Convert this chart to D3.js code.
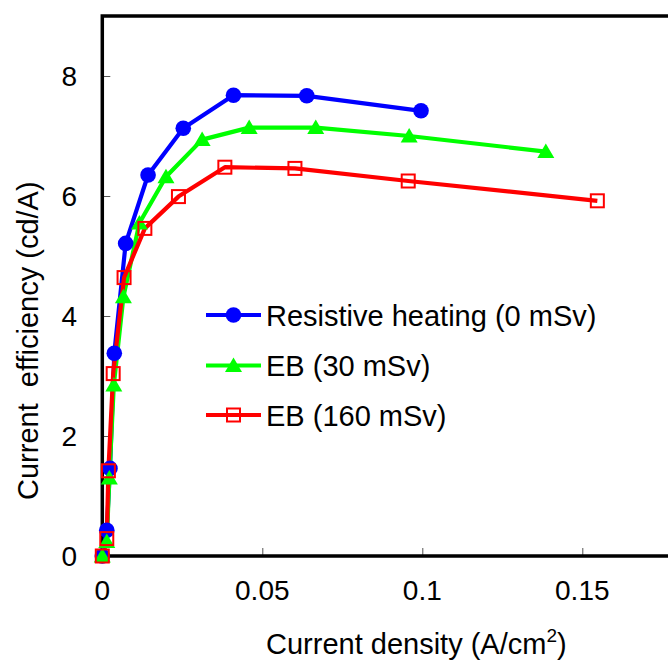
<!DOCTYPE html>
<html>
<head>
<meta charset="utf-8">
<script src="https://cdn.jsdelivr.net/npm/d3@7"></script>
<style>
  html, body { margin: 0; padding: 0; background: #fff; }
  svg { display: block; }
  text { font-family: "Liberation Sans", Arial, sans-serif; fill: #000; }
</style>
</head>
<body>
<svg id="chart" width="668" height="661"></svg>
<script>
// ---- data ----
const seriesNames = ["Resistive heating (0 mSv)", "EB (30 mSv)", "EB (160 mSv)"];
const blueX  = [0, 0.0014, 0.0024, 0.00375, 0.0073, 0.0143, 0.0253, 0.0410, 0.0639, 0.0996];
const blueY  = [0, 0.43, 1.46, 3.38, 5.21, 6.35, 7.13, 7.68, 7.67, 7.42];
const greenX = [0, 0.0014, 0.0022, 0.0036, 0.0066, 0.0116, 0.0199, 0.0312, 0.0459, 0.0667, 0.0959, 0.1386];
const greenY = [0, 0.24, 1.30, 2.85, 4.32, 5.55, 6.32, 6.94, 7.14, 7.14, 7.00, 6.74];
const redX   = [0, 0.0014, 0.0019, 0.0034, 0.0068, 0.0133, 0.0238, 0.0383, 0.0602, 0.0956, 0.1547];
const redY   = [0, 0.29, 1.42, 3.04, 4.64, 5.46, 5.99, 6.48, 6.46, 6.25, 5.92];
const xTicks = [0, 0.05, 0.1, 0.15];
const xTickLabels = ["0", "0.05", "0.1", "0.15"];
const yTicks = [0, 2, 4, 6, 8];
const yTickLabels = ["0", "2", "4", "6", "8"];
const xTitle = "Current density (A/cm";
const xTitleSup = "2";
const yTitle = "Current  efficiency (cd/A)";

// ---- layout ----
const svg = d3.select("#chart");
const L = 102.3, R = 742.3, T = 16, B = 556;
const x = d3.scaleLinear().domain([0, 0.2]).range([L, R]);
const y = d3.scaleLinear().domain([0, 9]).range([B, T]);

const series = [
  { name: seriesNames[0], xs: blueX,  ys: blueY,  color: "#0000ff", marker: "circle" },
  { name: seriesNames[1], xs: greenX, ys: greenY, color: "#00ff00", marker: "triangle" },
  { name: seriesNames[2], xs: redX,   ys: redY,   color: "#ff0000", marker: "square" }
];

// ticks (inward, thin)
svg.append("g").attr("transform", `translate(0,${B})`)
  .call(d3.axisTop(x).tickValues(xTicks.slice(1)).tickSize(8).tickFormat(""))
  .call(g => g.select(".domain").remove())
  .call(g => g.selectAll("line").attr("stroke", "#555").attr("stroke-width", 1));
svg.append("g").attr("transform", `translate(${L},0)`)
  .call(d3.axisRight(y).tickValues(yTicks.slice(1)).tickSize(8).tickFormat(""))
  .call(g => g.select(".domain").remove())
  .call(g => g.selectAll("line").attr("stroke", "#555").attr("stroke-width", 1));

// tick labels
svg.append("g").selectAll("text").data(xTicks).join("text")
  .attr("x", d => x(d)).attr("y", 600)
  .attr("text-anchor", "middle").attr("font-size", 28)
  .text((d, i) => xTickLabels[i]);
svg.append("g").selectAll("text").data(yTicks).join("text")
  .attr("x", 77).attr("y", d => y(d) + 10)
  .attr("text-anchor", "end").attr("font-size", 28)
  .text((d, i) => yTickLabels[i]);

// frame: left, top, bottom
svg.append("path")
  .attr("d", `M${R + 10},${T} H${L} V${B} H${R + 10}`)
  .attr("fill", "none").attr("stroke", "#000").attr("stroke-width", 3.5);

// lines
const line = d3.line().x(d => x(d[0])).y(d => y(d[1]));
series.forEach(s => {
  const pts = s.xs.map((v, i) => [v, s.ys[i]]);
  s.pts = pts;
  svg.append("path").datum(pts).attr("d", line)
    .attr("fill", "none").attr("stroke", s.color).attr("stroke-width", 4.2)
    .attr("stroke-linejoin", "round");
});

function drawMarker(g, s, cx, cy) {
  if (s.marker === "circle") {
    g.append("circle").attr("cx", cx).attr("cy", cy).attr("r", 7.8).attr("fill", s.color);
  } else if (s.marker === "triangle") {
    g.append("path").attr("d", `M${cx},${cy - 8} L${cx + 8.5},${cy + 6.5} L${cx - 8.5},${cy + 6.5} Z`)
      .attr("fill", s.color);
  } else {
    g.append("rect").attr("x", cx - 6.5).attr("y", cy - 6.5).attr("width", 13).attr("height", 13)
      .attr("fill", "none").attr("stroke", s.color).attr("stroke-width", 2);
  }
}

// markers
series.forEach(s => {
  const g = svg.append("g");
  s.pts.forEach(p => drawMarker(g, s, x(p[0]), y(p[1])));
});

// legend
const legY = [315, 365.5, 415];
series.forEach((s, i) => {
  const g = svg.append("g");
  g.append("line").attr("x1", 206).attr("x2", 261).attr("y1", legY[i]).attr("y2", legY[i])
    .attr("stroke", s.color).attr("stroke-width", 4);
  drawMarker(g, s, 233.5, legY[i]);
  g.append("text").attr("x", 266).attr("y", legY[i] + 10.5).attr("font-size", 29).text(s.name);
});

// axis titles
const xt = svg.append("text").attr("x", 266).attr("y", 654).attr("font-size", 29);
xt.append("tspan").text(xTitle);
xt.append("tspan").attr("font-size", 19).attr("dy", -12).text(xTitleSup);
xt.append("tspan").attr("dy", 12).text(")");

svg.append("text")
  .attr("transform", "translate(38,500) rotate(-90)")
  .attr("font-size", 29).style("white-space", "pre")
  .text(yTitle);
</script>
</body>
</html>
